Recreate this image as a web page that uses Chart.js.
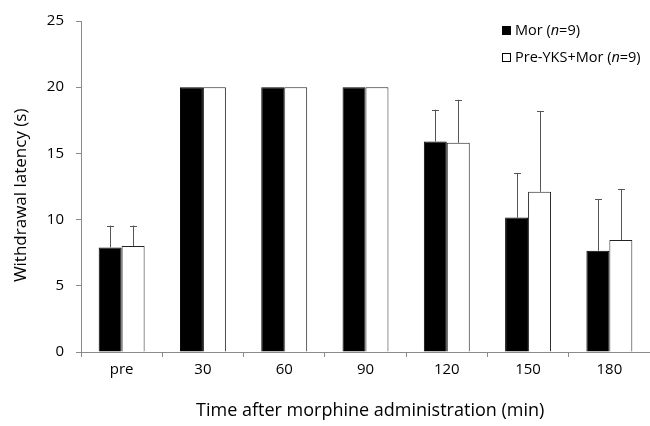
<!DOCTYPE html>
<html>
<head>
<meta charset="utf-8">
<script src="https://cdn.jsdelivr.net/npm/chart.js@4.4.1/dist/chart.umd.min.js"></script>
<style>
  html, body { margin: 0; padding: 0; background: #fff; }
  #wrap { width: 650px; height: 426px; position: relative; }
</style>
</head>
<body>
<div id="wrap"><canvas id="c" width="650" height="426"></canvas></div>
<script>
const categories = ['pre', '30', '60', '90', '120', '150', '180'];
const seriesNames = ['Mor', 'Pre-YKS+Mor'];
const seriesN = ['9', '9'];
const morValues = [7.9, 20, 20, 20, 15.9, 10.15, 7.65];
const preYksMorValues = [8.0, 20, 20, 20, 15.8, 12.1, 8.45];
const morErrors = [1.65, 0, 0, 0, 2.4, 3.35, 3.9];
const preYksMorErrors = [1.55, 0, 0, 0, 3.25, 6.1, 3.85];
const yTicks = [0, 5, 10, 15, 20, 25];
const xTitle = 'Time after morphine administration (min)';
const yTitle = 'Withdrawal latency (s)';

const FONT = '"Open Sans", Lato, sans-serif';
const AXIS_COLOR = '#8a8a8a';

const errorBarPlugin = {
  id: 'errorBars',
  afterDatasetsDraw(chart) {
    const ctx = chart.ctx;
    const yScale = chart.scales.y;
    chart.data.datasets.forEach((ds, di) => {
      const meta = chart.getDatasetMeta(di);
      meta.data.forEach((bar, i) => {
        const err = ds.errors[i];
        if (!err) return;
        const yTop = yScale.getPixelForValue(ds.data[i] + err);
        ctx.save();
        ctx.strokeStyle = '#555';
        ctx.lineWidth = 1;
        ctx.beginPath();
        ctx.moveTo(Math.round(bar.x) + 0.5, bar.y);
        ctx.lineTo(Math.round(bar.x) + 0.5, yTop);
        ctx.moveTo(Math.round(bar.x) - 3, Math.round(yTop) + 0.5);
        ctx.lineTo(Math.round(bar.x) + 4, Math.round(yTop) + 0.5);
        ctx.stroke();
        ctx.restore();
      });
    });
  }
};

const legendPlugin = {
  id: 'customLegend',
  afterDraw(chart) {
    const ctx = chart.ctx;
    const x0 = 502;
    const ys = [30, 57];
    ctx.save();
    chart.data.datasets.forEach((ds, i) => {
      const y = ys[i];
      ctx.fillStyle = ds.backgroundColor;
      ctx.fillRect(x0, y - 4, 9, 9);
      ctx.strokeStyle = '#000';
      ctx.lineWidth = 1;
      ctx.strokeRect(x0 + 0.5, y - 3.5, 8, 8);
      let x = x0 + 13;
      ctx.fillStyle = '#000';
      ctx.textBaseline = 'middle';
      const parts = [
        [seriesNames[i] + ' (', 'normal'],
        ['n', 'italic'],
        ['=' + seriesN[i] + ')', 'normal']
      ];
      parts.forEach(([t, st]) => {
        ctx.font = (st === 'italic' ? 'italic ' : '') + '14.5px ' + FONT;
        ctx.fillText(t, x, y + 1);
        x += ctx.measureText(t).width;
      });
    });
    ctx.restore();
  }
};

new Chart(document.getElementById('c'), {
  type: 'bar',
  data: {
    labels: categories,
    datasets: [
      {
        label: seriesNames[0],
        data: morValues,
        errors: morErrors,
        backgroundColor: '#000',
        borderColor: '#000',
        borderWidth: 1,
        categoryPercentage: 0.565,
        barPercentage: 1
      },
      {
        label: seriesNames[1],
        data: preYksMorValues,
        errors: preYksMorErrors,
        backgroundColor: '#fff',
        borderColor: '#222',
        borderWidth: 1,
        categoryPercentage: 0.565,
        barPercentage: 1
      }
    ]
  },
  options: {
    responsive: false,
    animation: false,
    layout: { padding: { top: 19, right: 0, bottom: 0, left: 0 } },
    plugins: { legend: { display: false }, tooltip: { enabled: false } },
    scales: {
      x: {
        grid: { display: true, drawOnChartArea: false, offset: true, color: AXIS_COLOR, tickLength: 5 },
        border: { display: true, color: AXIS_COLOR, width: 1 },
        ticks: { color: '#000', font: { family: FONT, size: 15 }, padding: 4 },
        title: { display: true, text: '  ' + xTitle, color: '#000', font: { family: FONT, size: 18 }, padding: { top: 0, bottom: 4 } },
        afterFit(scale) { scale.height = 74; }
      },
      y: {
        min: 0, max: 25,
        afterBuildTicks(scale) { scale.ticks = yTicks.map(v => ({ value: v })); },
        grid: { display: true, drawOnChartArea: false, color: AXIS_COLOR, tickLength: 5 },
        border: { display: true, color: AXIS_COLOR, width: 1 },
        ticks: { color: '#000', font: { family: FONT, size: 15 }, padding: 12 },
        title: { display: true, text: yTitle + '    ', color: '#000', font: { family: FONT, size: 17 }, padding: { top: 11, bottom: 0 } },
        afterFit(scale) { scale.width = 81; }
      }
    }
  },
  plugins: [errorBarPlugin, legendPlugin]
});
</script>
</body>
</html>
